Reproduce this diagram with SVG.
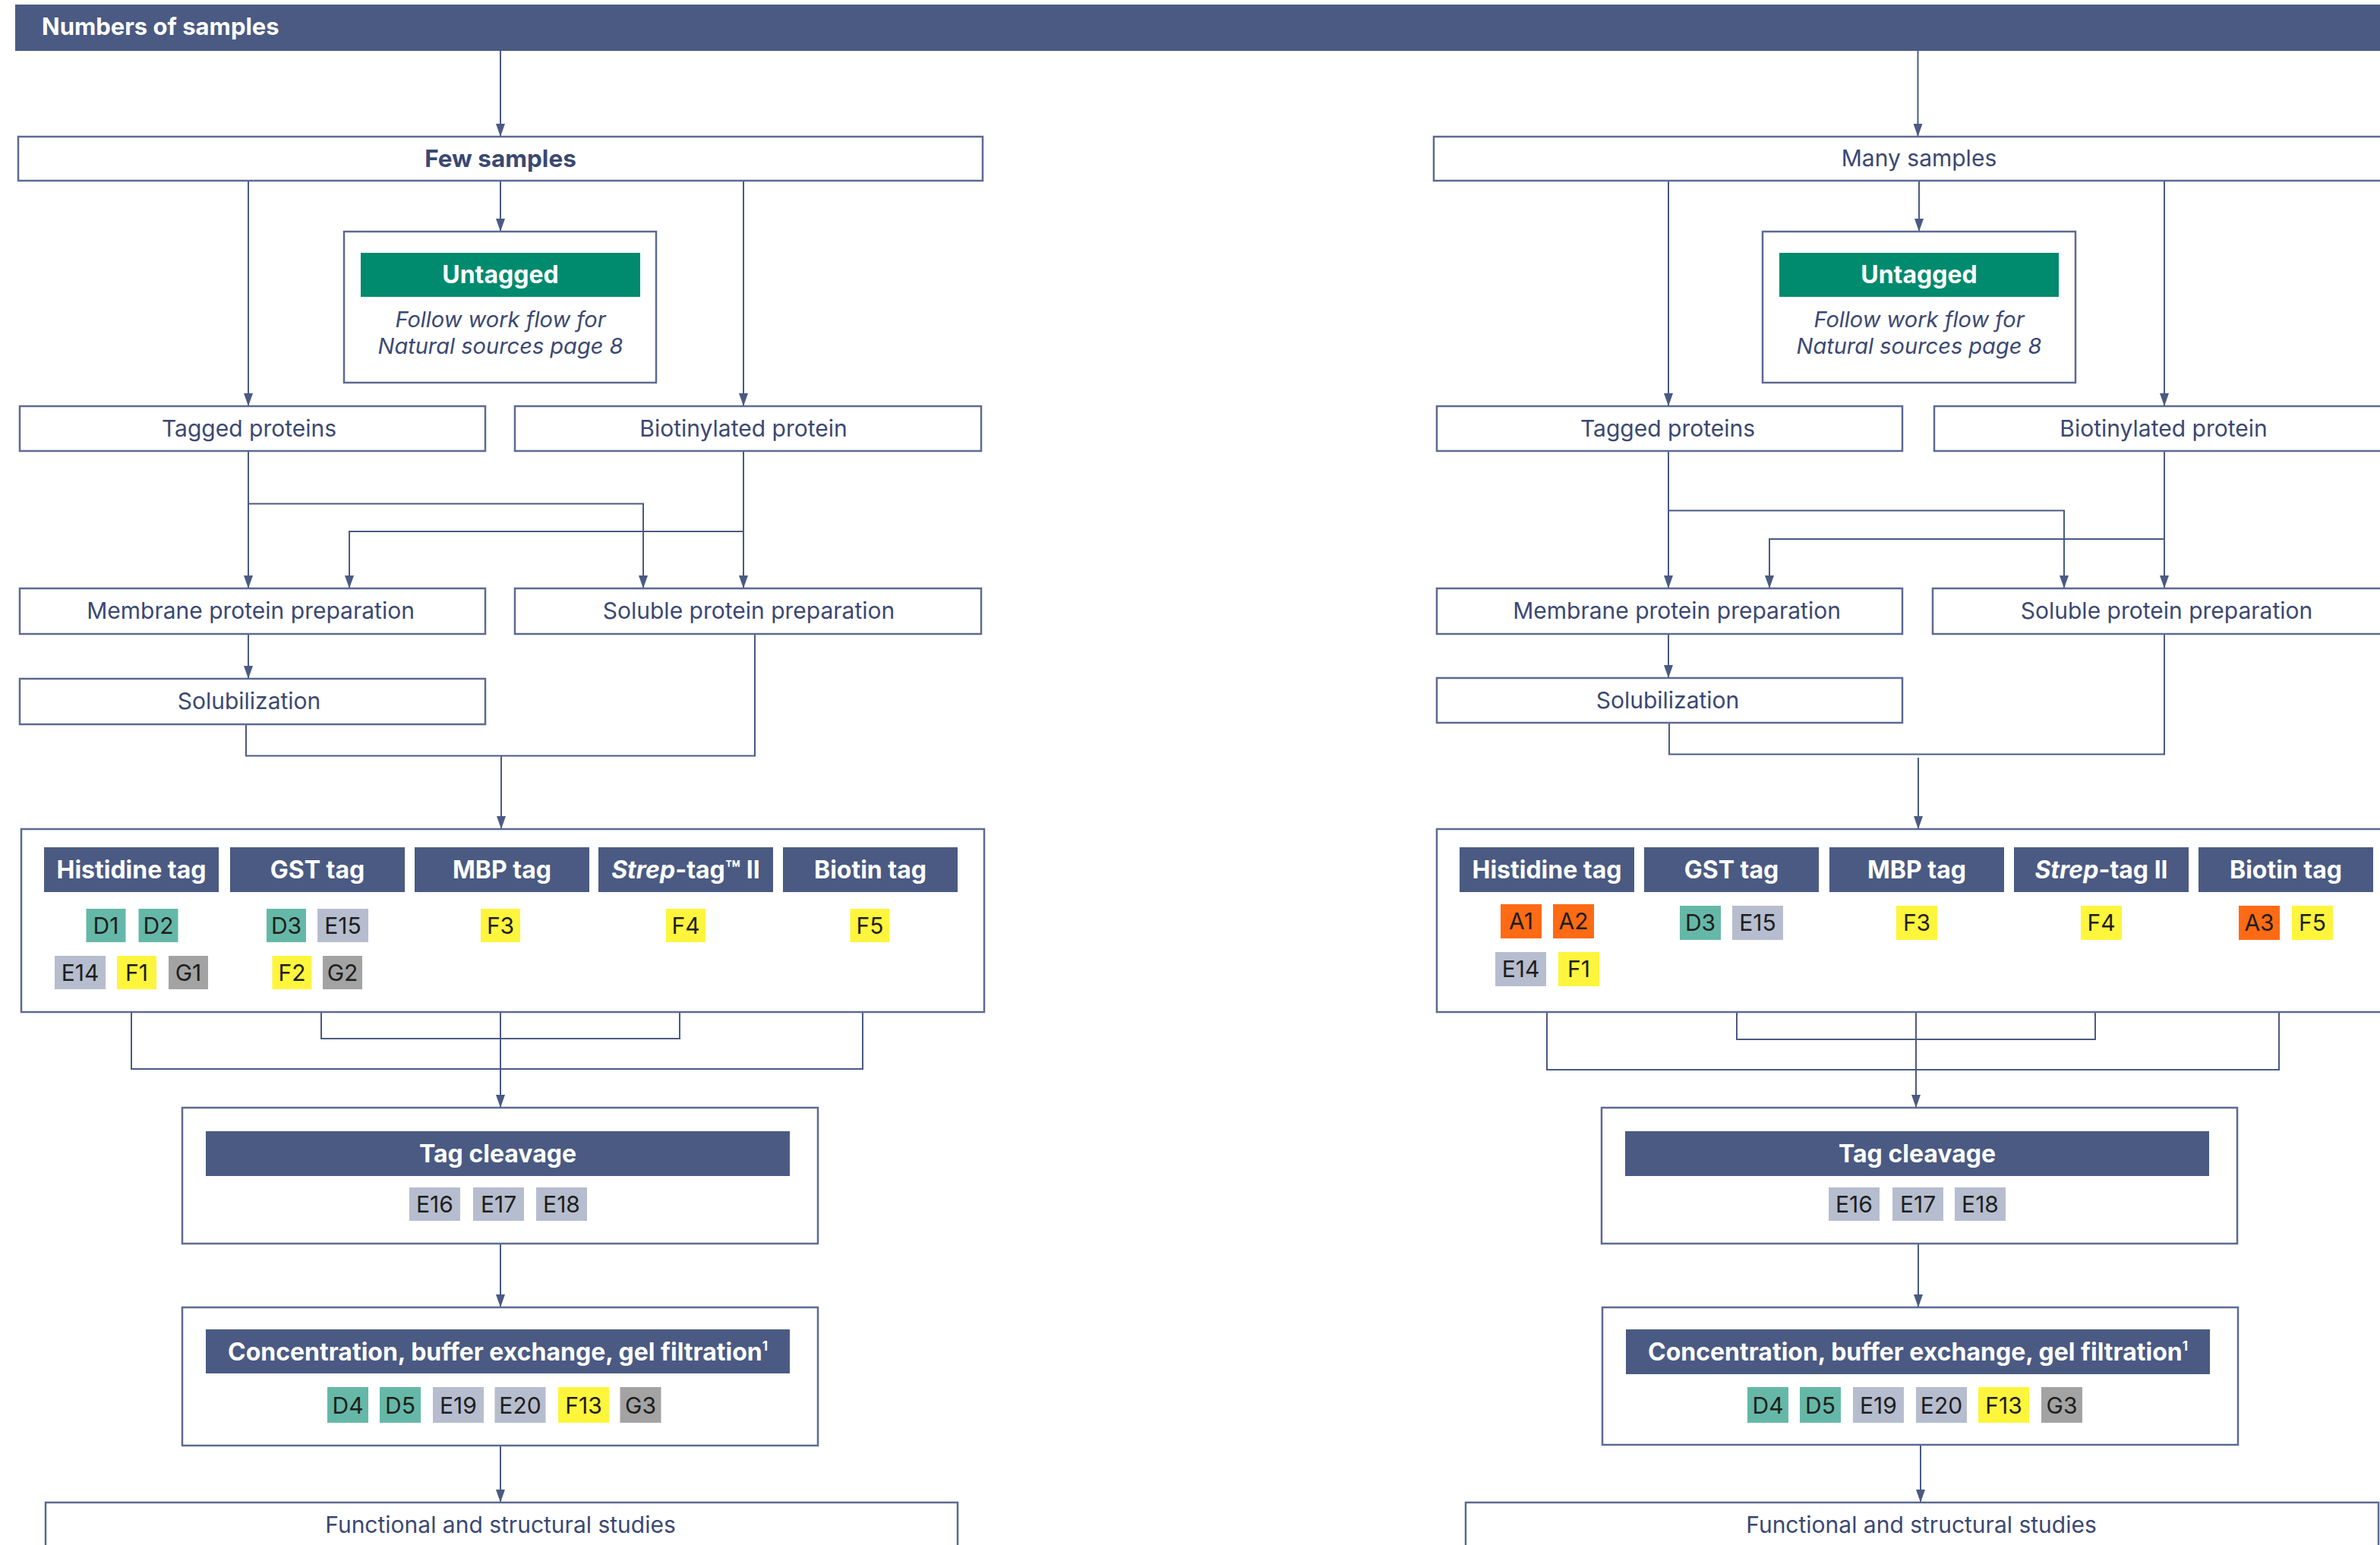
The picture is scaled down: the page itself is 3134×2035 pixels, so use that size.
<svg xmlns="http://www.w3.org/2000/svg" width="3134" height="2035" viewBox="0 0 3134 2035">
<style>
.box{fill:#fff;stroke:#5C6A93;stroke-width:2.5}
.bar{fill:#4A5A83}
.grn{fill:#008A6E}
.conn{fill:none;stroke:#4A5A83;stroke-width:2}
.arr{marker-end:url(#ah)}
text{font-family:Inter,"Liberation Sans",sans-serif;text-anchor:middle}
.lbl{font-size:30px;fill:#3B4873}
.lbl.it{font-size:29px}
.b{font-weight:700;font-size:31.5px}
.w{fill:#fff;font-weight:700;font-size:32px}
.it{font-style:italic}
.ct{font-size:30px;fill:#1E1E1E}
.teal{fill:#65B8A7}
.gb{fill:#B6BDCE}
.yl{fill:#FFF53C}
.gr{fill:#A3A3A3}
.or{fill:#FF6A14}
</style>
<defs>
<marker id="ah" markerUnits="userSpaceOnUse" markerWidth="17" markerHeight="12" refX="17" refY="6" orient="auto">
<path d="M0,0 L17,6 L0,12 z" fill="#4A5A83"/>
</marker>
</defs>
<rect width="3134" height="2035" fill="#fff"/>

<g id="header">
<rect class="bar" x="20" y="6" width="3120" height="61"/>
<text x="55" y="46" class="w" style="text-anchor:start;font-size:31px">Numbers of samples</text>
</g>

<g id="connectors">
<!-- left column -->
<path class="conn arr" d="M659,67 V180"/>
<path class="conn arr" d="M659,238 V305"/>
<path class="conn arr" d="M327,238 V535"/>
<path class="conn arr" d="M979,238 V535"/>
<path class="conn arr" d="M327,594 V775"/>
<path class="conn arr" d="M327,663.5 H847 V775"/>
<path class="conn arr" d="M979,594 V775"/>
<path class="conn arr" d="M979,700 H460 V775"/>
<path class="conn arr" d="M327,835 V894"/>
<path class="conn" d="M324,954 V995.5 H994 V835"/>
<path class="conn arr" d="M660,995.5 V1092"/>
<path class="conn" d="M173,1333 V1408 H1136 V1333"/>
<path class="conn" d="M423,1333 V1368 H895 V1333"/>
<path class="conn arr" d="M659,1333 V1459"/>
<path class="conn arr" d="M659,1638 V1722"/>
<path class="conn arr" d="M659,1904 V1979"/>
<!-- right column -->
<path class="conn arr" d="M2525.5,67 V180"/>
<path class="conn arr" d="M2527,238 V305"/>
<path class="conn arr" d="M2197,238 V535"/>
<path class="conn arr" d="M2850,238 V535"/>
<path class="conn arr" d="M2197,594 V775"/>
<path class="conn arr" d="M2197,672.5 H2718 V775"/>
<path class="conn arr" d="M2850,594 V775"/>
<path class="conn arr" d="M2850,710 H2330 V775"/>
<path class="conn arr" d="M2197,835 V893"/>
<path class="conn" d="M2198,952 V993.5 H2850 V835"/>
<path class="conn arr" d="M2526,998 V1092"/>
<path class="conn" d="M2037,1333 V1409 H3001 V1333"/>
<path class="conn" d="M2287,1333 V1369 H2759 V1333"/>
<path class="conn arr" d="M2523,1333 V1459"/>
<path class="conn arr" d="M2526,1638 V1722"/>
<path class="conn arr" d="M2529,1903 V1979"/>
</g>

<!-- LEFT COLUMN -->
<g id="few-samples">
<rect class="box" x="24" y="180" width="1270" height="58"/>
<text class="lbl b" x="659" y="220">Few samples</text>
</g>
<g id="untagged-left">
<rect class="box" x="453" y="305" width="411" height="199"/>
<rect class="grn" x="475" y="333" width="368" height="58"/>
<text class="w" x="659" y="373">Untagged</text>
<text class="lbl it" x="659" y="431">Follow work flow for</text>
<text class="lbl it" x="659" y="466">Natural sources page 8</text>
</g>
<g id="tagged-left">
<rect class="box" x="26" y="535" width="613" height="59"/>
<text class="lbl" x="328" y="575">Tagged proteins</text>
</g>
<g id="biotinylated-left">
<rect class="box" x="678" y="535" width="614" height="59"/>
<text class="lbl" x="979" y="575">Biotinylated protein</text>
</g>
<g id="membrane-left">
<rect class="box" x="26" y="775" width="613" height="60"/>
<text class="lbl" x="330" y="815">Membrane protein preparation</text>
</g>
<g id="soluble-left">
<rect class="box" x="678" y="775" width="614" height="60"/>
<text class="lbl" x="986" y="815">Soluble protein preparation</text>
</g>
<g id="solubilization-left">
<rect class="box" x="26" y="894" width="613" height="60"/>
<text class="lbl" x="328" y="934">Solubilization</text>
</g>
<g id="tags-left">
<rect class="box" x="28" y="1092" width="1268" height="241"/>
<rect class="bar" x="58" y="1116" width="230" height="59"/>
<text class="w" x="173" y="1157">Histidine tag</text>
<rect class="bar" x="303" y="1116" width="230" height="59"/>
<text class="w" x="418" y="1157">GST tag</text>
<rect class="bar" x="546" y="1116" width="230" height="59"/>
<text class="w" x="661" y="1157">MBP tag</text>
<rect class="bar" x="788" y="1116" width="230" height="59"/>
<text class="w" x="903" y="1157"><tspan class="it">Strep</tspan>-tag™ II</text>
<rect class="bar" x="1031" y="1116" width="230" height="59"/>
<text class="w" x="1146" y="1157">Biotin tag</text>
<rect class="teal" x="113.5" y="1197" width="52" height="44"/><text class="ct" x="139.5" y="1230">D1</text>
<rect class="teal" x="182.5" y="1197" width="52" height="44"/><text class="ct" x="208.5" y="1230">D2</text>
<rect class="gb" x="72" y="1259" width="67" height="44"/><text class="ct" x="105.5" y="1292">E14</text>
<rect class="yl" x="154" y="1259" width="52" height="44"/><text class="ct" x="180" y="1292">F1</text>
<rect class="gr" x="222" y="1259" width="52" height="44"/><text class="ct" x="248" y="1292">G1</text>
<rect class="teal" x="351" y="1197" width="52" height="44"/><text class="ct" x="377" y="1230">D3</text>
<rect class="gb" x="418" y="1197" width="67" height="44"/><text class="ct" x="451.5" y="1230">E15</text>
<rect class="yl" x="358.5" y="1259" width="52" height="44"/><text class="ct" x="384.5" y="1292">F2</text>
<rect class="gr" x="425" y="1259" width="52" height="44"/><text class="ct" x="451" y="1292">G2</text>
<rect class="yl" x="633" y="1197" width="52" height="44"/><text class="ct" x="659" y="1230">F3</text>
<rect class="yl" x="877" y="1197" width="52" height="44"/><text class="ct" x="903" y="1230">F4</text>
<rect class="yl" x="1119.5" y="1197" width="52" height="44"/><text class="ct" x="1145.5" y="1230">F5</text>
</g>
<g id="cleavage-left">
<rect class="box" x="240" y="1459" width="837" height="179"/>
<rect class="bar" x="271" y="1490" width="769" height="59"/>
<text class="w" x="655.5" y="1531">Tag cleavage</text>
<rect class="gb" x="539" y="1564" width="67" height="44"/><text class="ct" x="572.5" y="1597">E16</text>
<rect class="gb" x="623" y="1564" width="67" height="44"/><text class="ct" x="656.5" y="1597">E17</text>
<rect class="gb" x="706" y="1564" width="67" height="44"/><text class="ct" x="739.5" y="1597">E18</text>
</g>
<g id="concentration-left">
<rect class="box" x="240" y="1722" width="837" height="182"/>
<rect class="bar" x="271" y="1751" width="769" height="58"/>
<text class="w" x="655.5" y="1792">Concentration, buffer exchange, gel filtration<tspan font-size="17" dy="-13">1</tspan></text>
<rect class="teal" x="431" y="1827" width="54" height="47"/><text class="ct" x="458" y="1862">D4</text>
<rect class="teal" x="500" y="1827" width="54" height="47"/><text class="ct" x="527" y="1862">D5</text>
<rect class="gb" x="570" y="1827" width="67" height="47"/><text class="ct" x="603.5" y="1862">E19</text>
<rect class="gb" x="651.5" y="1827" width="67" height="47"/><text class="ct" x="685" y="1862">E20</text>
<rect class="yl" x="735" y="1827" width="67" height="47"/><text class="ct" x="768.5" y="1862">F13</text>
<rect class="gr" x="816.5" y="1827" width="54" height="47"/><text class="ct" x="843.5" y="1862">G3</text>
</g>
<g id="functional-left">
<rect class="box" x="60" y="1979" width="1201" height="80"/>
<text class="lbl" x="659" y="2019">Functional and structural studies</text>
</g>

<!-- RIGHT COLUMN -->
<g id="many-samples">
<rect class="box" x="1888" y="180" width="1270" height="58"/>
<text class="lbl" x="2527" y="219">Many samples</text>
</g>
<g id="untagged-right">
<rect class="box" x="2321" y="305" width="412" height="199"/>
<rect class="grn" x="2343" y="333" width="368" height="58"/>
<text class="w" x="2527" y="373">Untagged</text>
<text class="lbl it" x="2527" y="431">Follow work flow for</text>
<text class="lbl it" x="2527" y="466">Natural sources page 8</text>
</g>
<g id="tagged-right">
<rect class="box" x="1892" y="535" width="613" height="59"/>
<text class="lbl" x="2196" y="575">Tagged proteins</text>
</g>
<g id="biotinylated-right">
<rect class="box" x="2547" y="535" width="620" height="59"/>
<text class="lbl" x="2849" y="575">Biotinylated protein</text>
</g>
<g id="membrane-right">
<rect class="box" x="1892" y="775" width="613" height="60"/>
<text class="lbl" x="2208" y="815">Membrane protein preparation</text>
</g>
<g id="soluble-right">
<rect class="box" x="2545" y="775" width="620" height="60"/>
<text class="lbl" x="2853" y="815">Soluble protein preparation</text>
</g>
<g id="solubilization-right">
<rect class="box" x="1892" y="893" width="613" height="59"/>
<text class="lbl" x="2196" y="933">Solubilization</text>
</g>
<g id="tags-right">
<rect class="box" x="1892" y="1092" width="1260" height="241"/>
<rect class="bar" x="1922" y="1116" width="230" height="59"/>
<text class="w" x="2037" y="1157">Histidine tag</text>
<rect class="bar" x="2165" y="1116" width="230" height="59"/>
<text class="w" x="2280" y="1157">GST tag</text>
<rect class="bar" x="2409" y="1116" width="230" height="59"/>
<text class="w" x="2524" y="1157">MBP tag</text>
<rect class="bar" x="2652" y="1116" width="230" height="59"/>
<text class="w" x="2767" y="1157"><tspan class="it">Strep</tspan>-tag II</text>
<rect class="bar" x="2895" y="1116" width="230" height="59"/>
<text class="w" x="3010" y="1157">Biotin tag</text>
<rect class="or" x="1976" y="1191" width="54" height="45"/><text class="ct" x="2003" y="1224">A1</text>
<rect class="or" x="2045" y="1191" width="54" height="45"/><text class="ct" x="2072" y="1224">A2</text>
<rect class="gb" x="1969" y="1254" width="67" height="45"/><text class="ct" x="2002.5" y="1287">E14</text>
<rect class="yl" x="2052" y="1254" width="54" height="45"/><text class="ct" x="2079" y="1287">F1</text>
<rect class="teal" x="2212" y="1193" width="54" height="45"/><text class="ct" x="2239" y="1226">D3</text>
<rect class="gb" x="2281" y="1193" width="67" height="45"/><text class="ct" x="2314.5" y="1226">E15</text>
<rect class="yl" x="2497" y="1193" width="54" height="45"/><text class="ct" x="2524" y="1226">F3</text>
<rect class="yl" x="2740" y="1193" width="54" height="45"/><text class="ct" x="2767" y="1226">F4</text>
<rect class="or" x="2948" y="1193" width="54" height="45"/><text class="ct" x="2975" y="1226">A3</text>
<rect class="yl" x="3018" y="1193" width="54" height="45"/><text class="ct" x="3045" y="1226">F5</text>
</g>
<g id="cleavage-right">
<rect class="box" x="2109" y="1459" width="837" height="179"/>
<rect class="bar" x="2140" y="1490" width="769" height="59"/>
<text class="w" x="2524.5" y="1531">Tag cleavage</text>
<rect class="gb" x="2408" y="1564" width="67" height="44"/><text class="ct" x="2441.5" y="1597">E16</text>
<rect class="gb" x="2492" y="1564" width="67" height="44"/><text class="ct" x="2525.5" y="1597">E17</text>
<rect class="gb" x="2574" y="1564" width="67" height="44"/><text class="ct" x="2607.5" y="1597">E18</text>
</g>
<g id="concentration-right">
<rect class="box" x="2110" y="1722" width="837" height="181"/>
<rect class="bar" x="2141" y="1751" width="769" height="59"/>
<text class="w" x="2525.5" y="1792">Concentration, buffer exchange, gel filtration<tspan font-size="17" dy="-13">1</tspan></text>
<rect class="teal" x="2301" y="1827" width="54" height="47"/><text class="ct" x="2328" y="1862">D4</text>
<rect class="teal" x="2370" y="1827" width="54" height="47"/><text class="ct" x="2397" y="1862">D5</text>
<rect class="gb" x="2440" y="1827" width="67" height="47"/><text class="ct" x="2473.5" y="1862">E19</text>
<rect class="gb" x="2523" y="1827" width="67" height="47"/><text class="ct" x="2556.5" y="1862">E20</text>
<rect class="yl" x="2605" y="1827" width="67" height="47"/><text class="ct" x="2638.5" y="1862">F13</text>
<rect class="gr" x="2688" y="1827" width="54" height="47"/><text class="ct" x="2715" y="1862">G3</text>
</g>
<g id="functional-right">
<rect class="box" x="1930" y="1979" width="1202" height="80"/>
<text class="lbl" x="2530" y="2019">Functional and structural studies</text>
</g>
</svg>
